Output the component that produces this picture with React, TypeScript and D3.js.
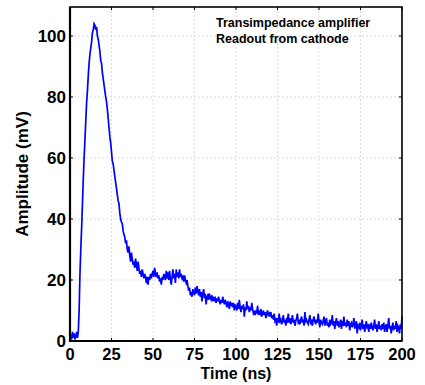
import React from "react";
import * as d3 from "d3";

// Sampled waveform: start time and step (ns), amplitude values (mV)
const tStart = 0;
const tStep = 0.5;
const amplitude: number[] = [
  // 0-9.5
  1, 2, 0.5, 3, 1, 2.5, 0.5, 1.5, 3, 1, 3, 10, 22, 30, 37, 45, 53, 60, 66, 72,
  // 10-19.5
  78, 82, 87, 91, 94, 96, 98, 101, 102, 104, 103.5, 102, 103, 100, 99, 97, 95, 92, 91, 88,
  // 20-29.5
  86, 84, 82, 80, 78.5, 76, 73, 70, 67, 65, 62, 59, 58, 56, 54, 52, 50, 48, 46, 45,
  // 30-39.5
  42, 40, 39, 38.5, 36, 35, 34, 32, 33, 30, 29, 31, 28, 26, 29, 27, 25, 26, 24, 27,
  // 40-49.5
  25, 23, 26, 24, 22, 23, 21, 23.5, 22, 20.5, 22, 21, 19, 21, 18.5, 21, 20, 22, 20.5, 22,
  // 50-59.5
  23, 21, 24, 22, 21, 22.5, 20.5, 21.5, 19.5, 20.5, 18.5, 21, 20, 22, 21, 20, 23, 20.5, 22.5, 20,
  // 60-69.5
  23, 20, 18.5, 21, 23.5, 20.5, 22, 19, 23.5, 21, 22.5, 20.5, 23.5, 21, 22, 20.5, 21, 19.5, 21.5, 20,
  // 70-79.5
  19, 20, 18, 16.5, 17.5, 15, 16, 14.5, 17, 16, 15, 17.5, 15.5, 18, 16.5, 15, 17, 14.5, 16, 13,
  // 80-89.5
  15.5, 17, 14, 15.5, 12, 14.5, 15, 13.5, 15.5, 14, 13.5, 15, 13, 14.5, 13.5, 14, 12.5, 14, 13, 14.5,
  // 90-99.5
  13, 12, 13.5, 12.5, 14.5, 13, 12, 13.5, 12.5, 11, 13, 12, 10.5, 13, 11.5, 12.5, 11, 12.5, 10, 12,
  // 100-109.5
  11, 10, 12.5, 10.5, 13.5, 11, 9.5, 11.5, 10.5, 12, 8, 11, 10, 13, 10.5, 11.5, 9.5, 11, 10, 12.5,
  // 110-119.5
  10.5, 9, 9.5, 8.5, 10, 9, 11.5, 8.5, 9.5, 9, 10.5, 8, 9, 10, 8.5, 9.5, 7.5, 9, 10, 8.5,
  // 120-129.5
  9, 8, 9.5, 7.5, 8.5, 7, 9, 6.5, 7, 5, 7.5, 6, 9, 6.5, 7, 5.5, 6.5, 8.5, 6, 7,
  // 130-139.5
  5, 7, 6.5, 9, 6, 7.5, 5.5, 6.5, 8.5, 6, 7, 5, 6.5, 7.5, 9, 6, 6.5, 5.5, 7, 8,
  // 140-149.5
  6, 7, 5, 9.5, 6.5, 7, 6, 5.5, 7, 8.5, 6, 6.5, 5, 7, 8, 6.5, 5.5, 7, 6, 9,
  // 150-159.5
  6.5, 4.5, 7, 6, 5.5, 6.5, 8, 5, 6.5, 7.5, 5, 6, 4.5, 7, 5.5, 6, 8.5, 5, 6.5, 4,
  // 160-169.5
  6, 7.5, 5, 6.5, 4.5, 5.5, 7, 4, 6, 5.5, 8, 5, 6, 4.5, 7, 5, 6.5, 3.5, 5.5, 6,
  // 170-179.5
  4.5, 5.5, 7.5, 4, 5, 6.5, 2.5, 5, 4.5, 6, 3.5, 5, 7, 4, 5.5, 3, 5, 6.5, 4.5, 5,
  // 180-189.5
  3, 5.5, 4, 6, 4.5, 3.5, 5, 7, 4, 5.5, 3, 4.5, 6.5, 4, 5, 3.5, 5.5, 4, 6, 3,
  // 190-199.5
  4.5, 5.5, 3, 5, 7.5, 4, 5, 2.5, 4.5, 6, 3.5, 5, 4, 6.5, 3, 5, 4.5, 2.5, 5.5, 4,
  // 200
  8,
];

const xTicks = [0, 25, 50, 75, 100, 125, 150, 175, 200];
const yTicks = [0, 20, 40, 60, 80, 100];
const annotation = ["Transimpedance amplifier", "Readout from cathode"];
const xLabel = "Time (ns)";
const yLabel = "Amplitude (mV)";

export default function App() {
  const W = 425;
  const H = 385;
  const left = 70;
  const right = 402;
  const top = 7;
  const bottom = 341;

  const x = d3.scaleLinear().domain([0, 200]).range([left, right]);
  const y = d3.scaleLinear().domain([0, 109.5]).range([bottom, top]);

  const pts: [number, number][] = amplitude.map((v, i) => [tStart + i * tStep, v]);
  const line = d3
    .line<[number, number]>()
    .x((d) => x(d[0]))
    .y((d) => y(d[1]));

  const font = "'Liberation Sans', Arial, Helvetica, sans-serif";

  return (
    <svg
      width={W}
      height={H}
      style={{ position: "absolute", left: 0, top: 0, background: "#fff" }}
      fontFamily={font}
    >
      <rect x={0} y={0} width={W} height={H} fill="#fff" />
      {/* grid */}
      {xTicks.map((t) => (
        <line
          key={"gx" + t}
          x1={x(t)}
          x2={x(t)}
          y1={top}
          y2={bottom}
          stroke="#d4d4d4"
          strokeWidth={0.8}
          strokeDasharray="2,2"
        />
      ))}
      {yTicks.map((t) => (
        <line
          key={"gy" + t}
          x1={left}
          x2={right}
          y1={y(t)}
          y2={y(t)}
          stroke="#d4d4d4"
          strokeWidth={0.8}
          strokeDasharray="2,2"
        />
      ))}
      {/* data */}
      <path d={line(pts) || ""} fill="none" stroke="#0000ff" strokeWidth={1.7} strokeLinejoin="miter" />
      {/* frame */}
      <rect x={left} y={top} width={right - left} height={bottom - top} fill="none" stroke="#000" strokeWidth={1.6} />
      <line x1={left} x2={left} y1={top} y2={bottom + 1} stroke="#000" strokeWidth={2.2} />
      <line x1={left - 1} x2={right} y1={bottom} y2={bottom} stroke="#000" strokeWidth={2.2} />
      {/* ticks */}
      {xTicks.map((t) => (
        <g key={"tx" + t}>
          <line x1={x(t)} x2={x(t)} y1={bottom} y2={bottom - 3} stroke="#000" strokeWidth={1} />
          <line x1={x(t)} x2={x(t)} y1={top} y2={top + 3} stroke="#000" strokeWidth={1} />
          <text x={x(t)} y={360} textAnchor="middle" fontSize={16.5} fontWeight="bold" fill="#000">
            {t}
          </text>
        </g>
      ))}
      {yTicks.map((t) => (
        <g key={"ty" + t}>
          <line x1={left} x2={left + 3} y1={y(t)} y2={y(t)} stroke="#000" strokeWidth={1} />
          <line x1={right} x2={right - 3} y1={y(t)} y2={y(t)} stroke="#000" strokeWidth={1} />
          <text x={66} y={y(t)} dy="0.36em" textAnchor="end" fontSize={17} fontWeight="bold" fill="#000">
            {t}
          </text>
        </g>
      ))}
      {/* axis labels */}
      <text x={236} y={379} textAnchor="middle" fontSize={16} fontWeight="bold" fill="#000">
        {xLabel}
      </text>
      <text
        transform={`translate(28, ${(top + bottom) / 2}) rotate(-90)`}
        textAnchor="middle"
        fontSize={17}
        fontWeight="bold"
        fill="#000"
      >
        {yLabel}
      </text>
      {/* annotation */}
      {annotation.map((s, i) => (
        <text key={s} x={216} y={27 + i * 16} fontSize={12.5} fontWeight="bold" fill="#000">
          {s}
        </text>
      ))}
    </svg>
  );
}
